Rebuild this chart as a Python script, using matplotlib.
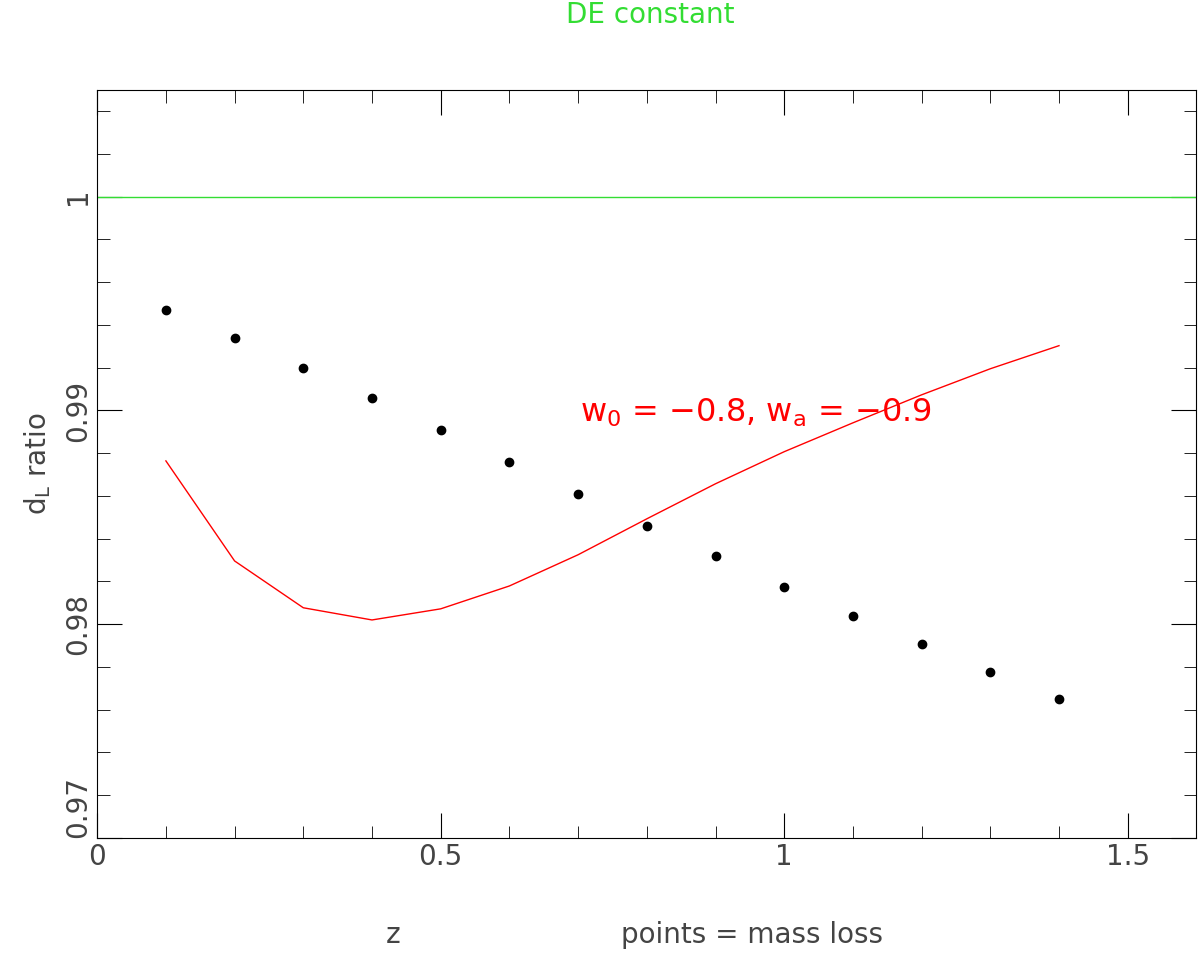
import matplotlib
matplotlib.use("Agg")
import matplotlib.pyplot as plt
from matplotlib.ticker import MultipleLocator

z = [0.1,0.2,0.3,0.4,0.5,0.6,0.7,0.8,0.9,1.0,1.1,1.2,1.3,1.4]
mass_loss = [0.99471,0.99340,0.99200,0.99059,0.98910,0.98760,0.98610,0.98460,0.98320,0.98175,0.98039,0.97908,0.97777,0.97651]
de_var = [0.98764,0.98296,0.98077,0.98020,0.98072,0.98179,0.98325,0.98493,0.98657,0.98807,0.98942,0.99073,0.99195,0.99303]

fig = plt.figure(figsize=(12, 9.55), dpi=100)
ax = fig.add_axes([0.081, 0.1225, 0.916, 0.7835])
ax.axhline(1.0, color='#33dd33', lw=1)
ax.plot(z, de_var, color='red', lw=1)
ax.plot(z, mass_loss, 'o', color='black', ms=6)
ax.set_xlim(0, 1.6)
ax.set_ylim(0.97, 1.005)
ax.xaxis.set_major_locator(MultipleLocator(0.5))
ax.xaxis.set_minor_locator(MultipleLocator(0.1))
ax.yaxis.set_major_locator(MultipleLocator(0.01))
ax.yaxis.set_minor_locator(MultipleLocator(0.002))
ax.tick_params(which='both', direction='in', top=True, right=True, labelsize=20, colors='black')
ax.tick_params(which='major', length=18)
ax.tick_params(which='minor', length=9)
ax.set_xticks([0, 0.5, 1, 1.5])
ax.set_xticklabels(['0', '0.5', '1', '1.5'], color='#444444')
ax.set_yticks([0.97, 0.98, 0.99, 1.0])
ax.set_yticklabels(['0.97', '0.98', '0.99', '1'], rotation=90, va='center', color='#444444')
ax.get_yticklabels()[0].set_va('bottom')
for s in ax.spines.values():
    s.set_linewidth(0.8)
ax.set_ylabel(r'd$_\mathrm{L}$ ratio', fontsize=20, color='#444444', labelpad=8)
fig.text(393/1200, 1-935/955, 'z', fontsize=20, color='#444444', ha='center', va='center')
fig.text(752/1200, 1-935/955, 'points = mass loss', fontsize=20, color='#444444', ha='center', va='center')
fig.text(650/1200, 1-15/955, 'DE constant', fontsize=20, color='#33dd33', ha='center', va='center')
ax.text(0.703, 0.9899, r'w$_0$ = $-$0.8, w$_\mathrm{a}$ = $-$0.9', fontsize=23, color='red', ha='left', va='center')
fig.savefig('out.png', dpi=100)
